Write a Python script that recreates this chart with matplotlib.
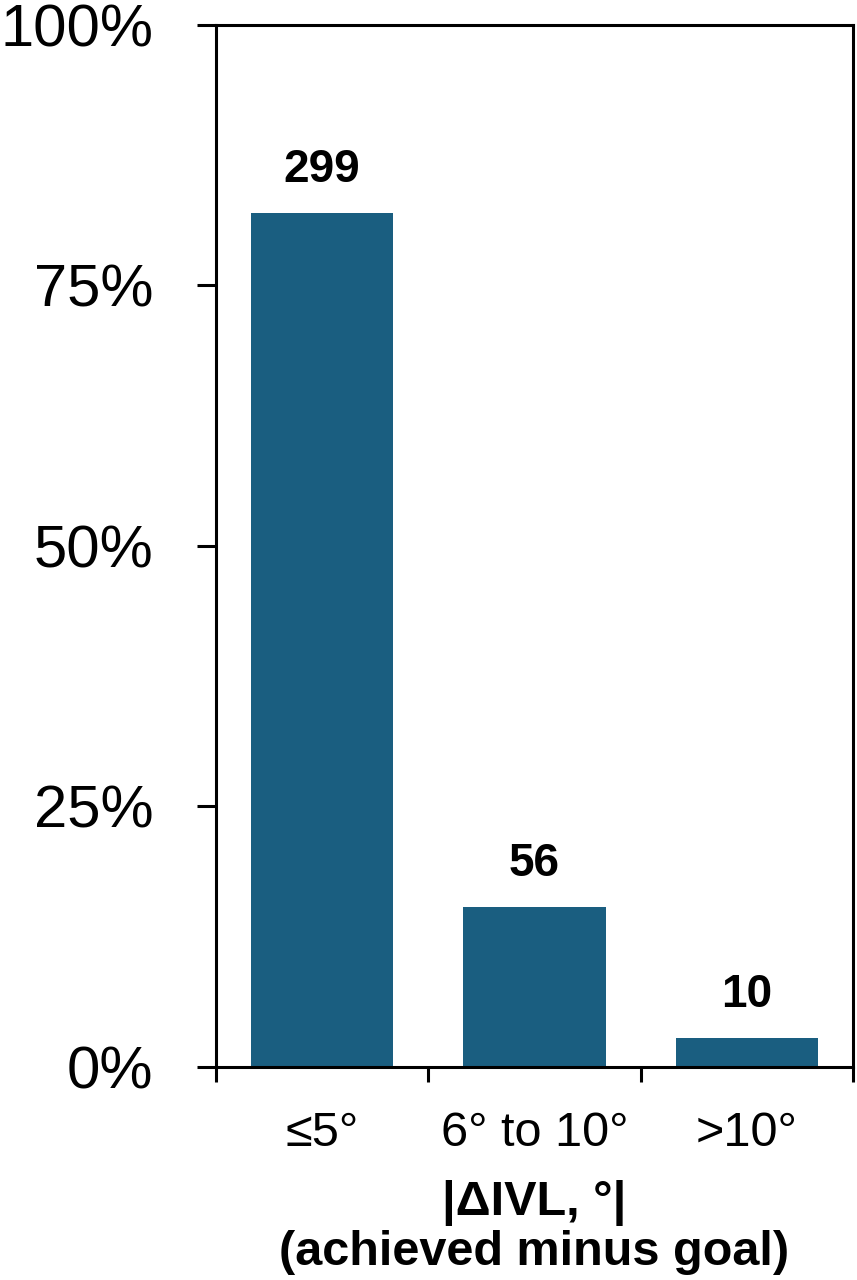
import matplotlib
matplotlib.use("Agg")
import matplotlib.pyplot as plt
from matplotlib.ticker import FixedLocator, PercentFormatter

categories = ["≤5°", "6° to 10°", ">10°"]
counts = [299, 56, 10]
total = sum(counts)
percents = [c / total * 100 for c in counts]
yticks = [0, 25, 50, 75, 100]

plt.rcParams['font.family'] = ['Liberation Sans', 'DejaVu Sans']

fig = plt.figure(figsize=(8.57, 12.8), dpi=100)
ax = fig.add_axes([0.252, 0.1664, 0.7433, 0.8141])

x = list(range(len(categories)))
ax.bar(x, percents, width=0.67, color="#1a5e80")
for xi, p, c in zip(x, percents, counts):
    ax.text(xi, p + 3.0, str(c), ha="center", va="baseline",
            fontsize=33, fontweight="bold")

ax.set_xlim(-0.5, 2.5)
ax.set_ylim(0, 100)
ax.set_yticks(yticks)
ax.yaxis.set_major_formatter(PercentFormatter(decimals=0))
ax.set_xticks(x)
ax.set_xticklabels(categories)
ax.xaxis.set_minor_locator(FixedLocator([-0.5, 0.5, 1.5, 2.5]))

for s in ax.spines.values():
    s.set_linewidth(2.2)
ax.tick_params(axis="y", length=14, width=2.2, labelsize=43, pad=31)
ax.tick_params(axis="x", which="major", length=0, labelsize=35, pad=32)
ax.tick_params(axis="x", which="minor", length=11, width=2.2)

ax.set_xlabel("|ΔIVL, °|\n(achieved minus goal)", fontsize=35,
              fontweight="bold", labelpad=17, linespacing=1.12)

fig.savefig("out.png", dpi=100)
